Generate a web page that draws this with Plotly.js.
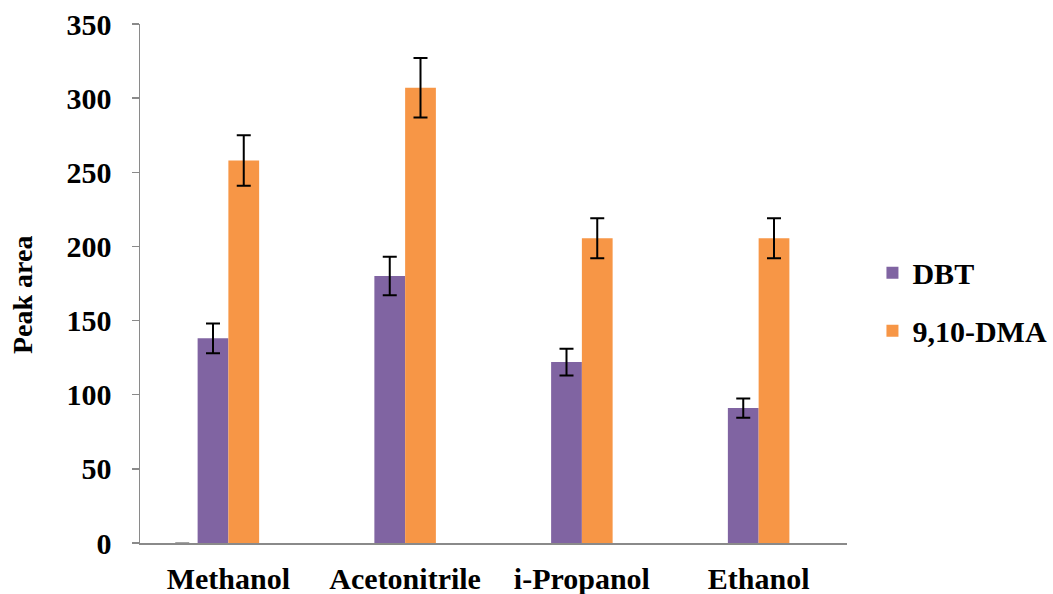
<!DOCTYPE html>
<html>
<head>
<meta charset="utf-8">
<script src="https://cdn.plot.ly/plotly-3.0.1.min.js"></script>
<style>html,body{margin:0;padding:0;background:#fff;}#chart{width:1053px;height:594px;}</style>
</head>
<body>
<div id="chart"></div>
<script>
const categories = ["Methanol", "Acetonitrile", "i-Propanol", "Ethanol"];
const dbtValues = [138, 180, 122, 91];
const dbtErrors = [10, 13, 9, 6.5];
const dmaValues = [258, 307, 205.5, 205.5];
const dmaErrors = [17, 20, 13.5, 13.5];
const blankValues = [0, null, null, null];
const blankErrors = [0, 0, 0, 0];
const yTicks = [0, 50, 100, 150, 200, 250, 300, 350];
const yTitle = 'Peak area';

const fontFam = 'Liberation Serif';
const F = (s) => ({family: fontFam, size: s, color: '#000', weight: 'bold'});
const errStyle = {type: 'data', visible: true, color: '#000', thickness: 2, width: 7};

const traces = [
  {type: 'bar', x: categories, y: blankValues, name: 'blank', showlegend: false,
   marker: {color: 'rgba(0,0,0,0)'}, hoverinfo: 'skip',
   error_y: Object.assign({}, errStyle, {array: blankErrors, color: '#888', thickness: 1.5, width: 7})},
  {type: 'bar', x: categories, y: dbtValues, name: 'DBT', legendgroup: 'a',
   marker: {color: '#8064A2'},
   error_y: Object.assign({}, errStyle, {array: dbtErrors})},
  {type: 'bar', x: categories, y: dmaValues, name: '9,10-DMA', legendgroup: 'b',
   marker: {color: '#F79646'},
   error_y: Object.assign({}, errStyle, {array: dmaErrors})},
  {type: 'bar', x: categories, y: [null, null, null, null], name: 'blank2', showlegend: false,
   marker: {color: 'rgba(0,0,0,0)'}, hoverinfo: 'skip'}
];

const layout = {
  width: 1053, height: 594,
  margin: {l: 140, r: 206, t: 24, b: 51, autoexpand: false},
  paper_bgcolor: '#fff', plot_bgcolor: '#fff',
  font: F(30),
  barmode: 'group', bargap: 0.304, bargroupgap: 0,
  showlegend: true,
  legend: {x: 1.036, xanchor: 'left', y: 0.465, yanchor: 'middle',
    font: F(30), tracegroupgap: 16, itemwidth: 30, bgcolor: 'rgba(0,0,0,0)'},
  xaxis: {
    type: 'category', range: [-0.5, 3.5], showgrid: false, zeroline: false,
    showline: true, linecolor: '#8a8a8a', linewidth: 1.5, ticks: '',
    ticklabelstandoff: 8, automargin: false,
    tickfont: F(30)
  },
  yaxis: {
    range: [0, 350], tickvals: yTicks, ticktext: yTicks.map(String),
    showgrid: false, zeroline: false, showline: true, linecolor: '#8a8a8a', linewidth: 1.5,
    ticks: 'outside', ticklen: 7, tickcolor: '#8a8a8a', tickwidth: 1.5,
    ticklabelstandoff: 14, automargin: false,
    tickfont: F(30)
  },
  annotations: [{
    text: yTitle, textangle: -90, xref: 'paper', yref: 'paper',
    x: (22 - 140) / 707, y: (543 - 295) / 519, xanchor: 'center', yanchor: 'middle',
    showarrow: false, font: F(28)
  }]
};

Plotly.newPlot('chart', traces, layout, {displayModeBar: false, staticPlot: true});
</script>
</body>
</html>
